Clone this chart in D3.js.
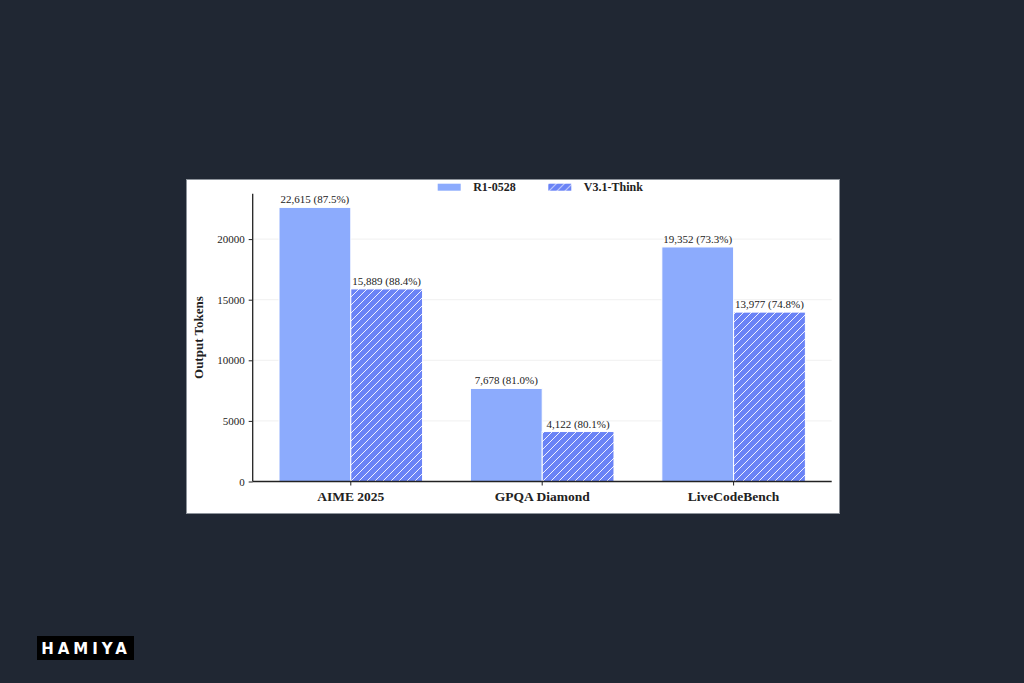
<!DOCTYPE html>
<html><head><meta charset="utf-8">
<script src="https://cdn.jsdelivr.net/npm/d3@7"></script>
<style>
html,body{margin:0;padding:0;background:#202733;}
svg{display:block;}
</style></head>
<body>
<svg id="c" width="1024" height="683"></svg>
<script>
const categories = ["AIME 2025", "GPQA Diamond", "LiveCodeBench"];
const seriesNames = ["R1-0528", "V3.1-Think"];
const r1Values = [22615, 7678, 19352];
const v31Values = [15889, 4122, 13977];
const r1Acc = ["87.5%", "81.0%", "73.3%"];
const v31Acc = ["88.4%", "80.1%", "74.8%"];
const yTicks = [0, 5000, 10000, 15000, 20000];

const series = [
  {name: seriesNames[0], values: r1Values, acc: r1Acc, color: "#8cabfd", hatch: false},
  {name: seriesNames[1], values: v31Values, acc: v31Acc, color: "#6a83f6", hatch: true}
];

const svg = d3.select("#c");
const serif = "'Liberation Serif','DejaVu Serif',serif";

// page background + panel
svg.append("rect").attr("width",1024).attr("height",683).attr("fill","#202733");
svg.append("rect").attr("x",186.5).attr("y",179.5).attr("width",653).attr("height",334)
  .attr("fill","#ffffff").attr("stroke","#8d939b").attr("stroke-width",1);

const defs = svg.append("defs");
const pat = defs.append("pattern").attr("id","hatch").attr("patternUnits","userSpaceOnUse")
  .attr("width",8).attr("height",8);
pat.append("rect").attr("width",8).attr("height",8).attr("fill",series[1].color);
pat.append("path").attr("d","M-2,2 L2,-2 M0,8 L8,0 M6,10 L10,6")
  .attr("stroke","#ffffff").attr("stroke-width",0.9);

const L = 252.7, R = 831.7, B = 481.5, T = 193.7;
const ymax = d3.max([...r1Values, ...v31Values]) * 1.05;
const y = d3.scaleLinear().domain([0, ymax]).range([B, T]);
const x = d3.scaleBand().domain(categories).range([L, R]).paddingInner(0.25).paddingOuter(0.1375);
const xs = d3.scaleBand().domain(seriesNames).range([0, x.bandwidth()]).padding(0);

// grid
svg.append("g").selectAll("line").data(yTicks.filter(d=>d>0)).join("line")
  .attr("x1", L).attr("x2", R).attr("y1", d=>y(d)).attr("y2", d=>y(d))
  .attr("stroke","#f0f0f0").attr("stroke-width",1);

// bars
const groups = svg.append("g").selectAll("g").data(series).join("g");
groups.selectAll("rect").data(s => categories.map((c,i)=>({c, v:s.values[i], a:s.acc[i], s})))
  .join("rect")
  .attr("x", d => x(d.c) + xs(d.s.name))
  .attr("y", d => y(d.v))
  .attr("width", xs.bandwidth())
  .attr("height", d => B - y(d.v))
  .attr("fill", d => d.s.hatch ? "url(#hatch)" : d.s.color)
  .attr("stroke","#ffffff").attr("stroke-width",1);

groups.selectAll("text").data(s => categories.map((c,i)=>({c, v:s.values[i], a:s.acc[i], s})))
  .join("text")
  .attr("x", d => x(d.c) + xs(d.s.name) + xs.bandwidth()/2)
  .attr("y", d => y(d.v) - 4)
  .attr("text-anchor","middle")
  .attr("font-family", serif).attr("font-size", 11).attr("fill","#222")
  .text(d => d3.format(",")(d.v) + " (" + d.a + ")");

// axes
const yAxis = svg.append("g").attr("transform",`translate(${L},0)`)
  .call(d3.axisLeft(y).tickValues(yTicks).tickFormat(d3.format("d")).tickSize(4).tickPadding(4));
yAxis.select(".domain").attr("d", `M0,${T}V${B}`).attr("stroke","#222").attr("stroke-width",1.3);
yAxis.selectAll(".tick line").attr("stroke","#222");
yAxis.selectAll(".tick text").attr("font-family", serif).attr("font-size", 11).attr("fill","#222");

const xAxis = svg.append("g").attr("transform",`translate(0,${B})`)
  .call(d3.axisBottom(x).tickSize(4).tickPadding(6));
xAxis.select(".domain").attr("d", `M${L},0H${R}`).attr("stroke","#222").attr("stroke-width",1.3);
xAxis.selectAll(".tick line").attr("stroke","#222");
xAxis.selectAll(".tick text").attr("font-family", serif).attr("font-size", 13.5)
  .attr("font-weight","bold").attr("fill","#222");

svg.append("text").attr("transform",`translate(203,${(T+B)/2}) rotate(-90)`)
  .attr("text-anchor","middle").attr("font-family", serif).attr("font-size", 13)
  .attr("font-weight","bold").attr("fill","#222").text("Output Tokens");

// legend
const legX = [437.7, 548.3];
const leg = svg.append("g").selectAll("g").data(series).join("g")
  .attr("transform",(d,i)=>`translate(${legX[i]},183.7)`);
leg.append("rect").attr("width",23).attr("height",7)
  .attr("fill", d => d.hatch ? "url(#hatch)" : d.color);
leg.append("text").attr("x",35.5).attr("y",7.5)
  .attr("font-family", serif).attr("font-size", 12).attr("font-weight","bold").attr("fill","#222")
  .text(d => d.name);

// watermark
svg.append("rect").attr("x",37).attr("y",636).attr("width",97).attr("height",24).attr("fill","#000");
svg.append("text").attr("x",86).attr("y",654).attr("text-anchor","middle")
  .attr("font-family","'DejaVu Sans',sans-serif").attr("font-size",15).attr("font-weight","bold")
  .attr("letter-spacing",4).attr("fill","#fff").text("HAMIYA");
</script>
</body></html>
